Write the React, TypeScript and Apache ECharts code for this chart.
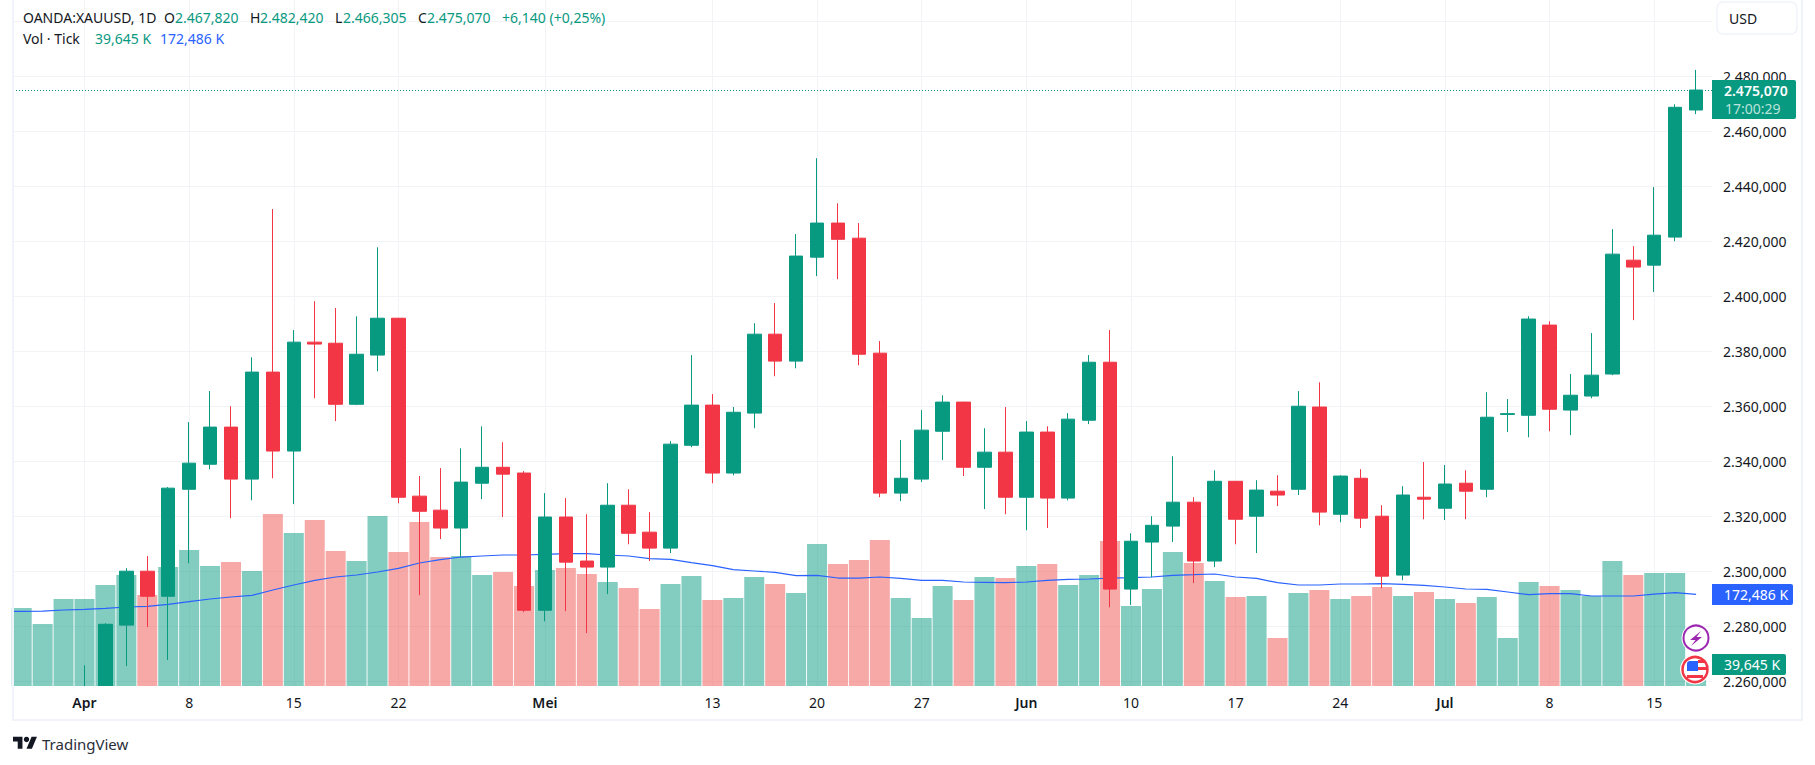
import React, { useEffect, useRef } from "react";
import * as echarts from "echarts";

const FONT = "'Noto Sans', sans-serif";
const UP = "#089981";
const DOWN = "#F23645";
const TEXT = "#131722";
const GRID = "#F2F3F6";

// Index 0 = 27 Mar; weekdays only. Candles start at index 3 (1 Apr), earlier ones lie below the pane.
const firstCandle = 3;
const opens = [2250, 2250, 2280.5, 2300.1, 2291.0, 2329.9, 2339.0, 2352.5, 2333.6, 2372.5, 2343.8, 2383.4, 2383.0, 2360.8, 2378.7, 2392.1, 2327.4, 2322.3, 2315.8, 2332.1, 2337.9, 2335.8, 2285.9, 2319.8, 2303.8, 2301.6, 2324.1, 2314.3, 2308.5, 2345.9, 2360.5, 2335.8, 2357.6, 2386.3, 2376.5, 2414.3, 2426.7, 2421.2, 2379.4, 2328.5, 2333.6, 2351.0, 2361.6, 2337.9, 2343.4, 2327.0, 2350.7, 2326.7, 2355.0, 2376.1, 2293.6, 2310.7, 2316.5, 2325.2, 2303.8, 2332.8, 2320.1, 2329.2, 2329.9, 2359.8, 2320.8, 2333.9, 2320.1, 2298.7, 2327.0, 2323.0, 2332.1, 2329.9, 2357.1, 2356.8, 2389.6, 2358.7, 2363.8, 2371.8, 2413.2, 2411.4, 2421.6, 2467.82];
const closes = [2255, 2280.8, 2300.1, 2291.0, 2330.3, 2339.4, 2352.5, 2333.6, 2372.5, 2343.8, 2383.4, 2382.7, 2360.8, 2379.0, 2392.1, 2327.0, 2321.9, 2315.8, 2332.5, 2337.9, 2335.4, 2285.9, 2319.8, 2303.4, 2301.6, 2324.1, 2313.9, 2308.5, 2346.3, 2360.5, 2335.8, 2357.9, 2386.3, 2376.5, 2414.7, 2426.7, 2420.8, 2379.0, 2328.5, 2333.9, 2351.4, 2361.6, 2337.9, 2343.4, 2327.0, 2350.7, 2326.7, 2355.4, 2376.1, 2293.6, 2311.0, 2316.8, 2325.2, 2303.8, 2332.8, 2319.0, 2329.6, 2327.8, 2360.1, 2321.6, 2334.7, 2319.4, 2298.3, 2327.8, 2326.3, 2331.8, 2329.2, 2356.1, 2357.4, 2391.8, 2359.0, 2364.1, 2371.4, 2415.4, 2410.7, 2422.3, 2468.8, 2475.07];
const lows = [2245, 2243, 2265.6, 2279.8, 2267.8, 2303.0, 2337.2, 2319.4, 2325.9, 2333.9, 2324.5, 2363.0, 2354.7, 2360.5, 2372.8, 2324.8, 2291.4, 2311.8, 2305.2, 2326.3, 2319.8, 2285.2, 2281.9, 2285.6, 2277.6, 2291.8, 2309.9, 2303.8, 2306.7, 2345.2, 2332.1, 2335.0, 2352.1, 2371.0, 2373.9, 2407.4, 2406.3, 2375.0, 2327.0, 2325.6, 2332.5, 2340.5, 2334.7, 2322.7, 2320.8, 2315.0, 2315.8, 2325.9, 2353.6, 2287.0, 2287.8, 2297.9, 2310.7, 2295.8, 2301.6, 2309.9, 2306.7, 2323.8, 2327.8, 2316.8, 2317.9, 2315.8, 2293.9, 2296.8, 2319.0, 2318.7, 2319.0, 2327.0, 2350.7, 2348.8, 2351.0, 2349.6, 2363.0, 2371.4, 2391.4, 2401.6, 2420.1, 2466.3];
const highs = [2265.9, 2281.2, 2301.2, 2305.6, 2330.7, 2354.3, 2365.6, 2360.1, 2377.9, 2431.8, 2387.8, 2398.3, 2395.8, 2392.8, 2417.9, 2392.2, 2334.7, 2337.6, 2344.8, 2352.8, 2347.0, 2336.5, 2328.5, 2326.7, 2320.8, 2332.1, 2329.9, 2321.6, 2347.4, 2378.7, 2364.5, 2359.8, 2390.3, 2397.6, 2422.7, 2450.3, 2433.9, 2426.7, 2383.8, 2347.8, 2358.7, 2364.1, 2361.7, 2352.1, 2359.8, 2354.7, 2352.8, 2357.6, 2378.7, 2387.8, 2313.9, 2320.1, 2341.9, 2327.0, 2336.8, 2332.9, 2333.2, 2335.0, 2365.6, 2368.8, 2335.0, 2337.2, 2324.1, 2331.0, 2339.8, 2338.7, 2336.8, 2365.2, 2362.7, 2392.8, 2391.0, 2371.8, 2386.7, 2424.5, 2418.3, 2439.8, 2469.9, 2482.42];

// Volume in thousands, from index 0
const volumes = [146.7, 116.6, 163.6, 163.6, 190, 208.8, 171.2, 223.8, 255.8, 225.7, 233.2, 216.3, 323.5, 287.8, 312.2, 253.9, 235.1, 319.8, 252.1, 308.5, 242.6, 244.5, 208.8, 214.4, 188.1, 218.2, 222, 210.7, 195.6, 184.3, 144.8, 191.9, 206.9, 161.8, 165.5, 205, 191.9, 174.9, 267.1, 229.5, 237, 274.6, 165.5, 127.9, 188.1, 161.8, 205, 203.1, 225.7, 229.5, 190, 208.8, 272.7, 150.5, 182.5, 252.1, 231.4, 197.5, 167.4, 169.3, 90.3, 174.9, 180.6, 163.6, 169.3, 186.2, 169.3, 176.8, 163.6, 156.1, 167.4, 90.3, 195.6, 188.1, 180.6, 169.3, 235.1, 208.8, 212.6, 212.6, 39.645];
// Moving average of volume, from index -1 (the first point lies just left of the pane)
const volumeSma = [140, 140.4, 141, 143, 144.2, 146, 148.6, 149.9, 153.6, 158.6, 163.6, 167.4, 170.5, 180.6, 190, 198.8, 205, 208.8, 214.4, 221.3, 231.4, 237.6, 242.6, 244.5, 246.4, 246.4, 247.7, 248.9, 248.9, 246.4, 244.5, 239.5, 238.3, 232, 226.3, 218.8, 216.3, 213.8, 207.5, 208.2, 203.1, 203.1, 205, 202.5, 198.8, 198.8, 195.6, 195, 194.4, 195.6, 198.8, 200.6, 201.3, 203.1, 203.8, 205, 208.2, 209.4, 210.7, 205, 202.5, 194.4, 190, 190, 191.9, 191.9, 192.5, 191.2, 189.4, 186.2, 182.5, 181.8, 176.8, 171.8, 173.7, 173.7, 169.3, 169.3, 169.3, 173, 175.6, 172.486];

const timeTickIndex = [3, 8, 13, 18, 25, 33, 38, 43, 48, 53, 58, 63, 68, 73, 78];
const timeTickLabels = ["Apr", "8", "15", "22", "Mei", "13", "20", "27", "Jun", "10", "17", "24", "Jul", "8", "15"];
const monthLabels = ["Apr", "Mei", "Jun", "Jul"];
const priceGridLines = [2260, 2280, 2300, 2320, 2340, 2360, 2380, 2400, 2420, 2440, 2460, 2480, 2500];
const priceLabels = [2260, 2280, 2300, 2320, 2340, 2360, 2380, 2400, 2420, 2440, 2460, 2480];
const lastPrice = 2475.07;

const headerSegments: [string, number, string][] = [
  ["OANDA:XAUUSD, 1D", 23, TEXT],
  ["O", 164, TEXT],
  ["2.467,820", 175, UP],
  ["H", 250, TEXT],
  ["2.482,420", 260, UP],
  ["L", 335, TEXT],
  ["2.466,305", 343, UP],
  ["C", 418, TEXT],
  ["2.475,070", 427, UP],
  ["+6,140 (+0,25%)", 502, UP],
];
const volSegments: [string, number, string][] = [
  ["Vol · Tick", 23, TEXT],
  ["39,645 K", 95, UP],
  ["172,486 K", 160, "#2962FF"],
];

const fmtPrice = (v: number) => `${Math.floor(v / 1000)}.${String(v % 1000).padStart(3, "0")},000`;

const txt = (text: string, x: number, y: number, fill: string, fontSize = 14, fontWeight: any = "normal", z = 120) => ({
  type: "text" as const,
  x,
  y,
  z,
  silent: true,
  style: { text, fill, fontSize, fontWeight, fontFamily: FONT, align: "left", verticalAlign: "middle" },
});
const box = (x: number, y: number, width: number, height: number, fill: string, r: any = 0, z = 110, stroke?: string, lineWidth = 0) => ({
  type: "rect" as const,
  z,
  silent: true,
  shape: { x, y, width, height, r },
  style: { fill, stroke, lineWidth },
});

export default function App() {
  const ref = useRef<HTMLDivElement>(null);
  useEffect(() => {
    if (!ref.current) return;
    echarts.graphic.registerShape("tvlogo", echarts.graphic.extendPath("M14 22H7V11H0V4h14v18zM28 22h-8l7.5-18h8L28 22z", {}) as any);
    const chart = echarts.init(ref.current, undefined, { renderer: "svg" });
    const candleData = opens.map((o, k) => [k + firstCandle, o, closes[k], lows[k], highs[k]]);
    const volumeData = volumes.map((v, i) => {
      const k = i - firstCandle;
      const down = k >= 0 && closes[k] < opens[k];
      return { value: [i, v], itemStyle: { color: down ? "rgba(239,83,80,0.5)" : "rgba(8,153,129,0.5)" } };
    });
    chart.setOption({
      animation: false,
      backgroundColor: "#ffffff",
      textStyle: { fontFamily: FONT },
      grid: { left: 13, right: 103, top: 0, bottom: 79, containLabel: false },
      xAxis: [
        {
          // labels sit above the white strip that hides what candles reach below the pane
          type: "value",
          position: "bottom",
          min: -0.416,
          max: 80.76,
          z: 10,
          axisLine: { show: false },
          axisTick: { show: false },
          splitLine: { show: false },
          axisLabel: {
            customValues: timeTickIndex,
            margin: 9,
            fontFamily: FONT,
            fontSize: 14,
            color: TEXT,
            formatter: (v: number) => {
              const l = timeTickLabels[timeTickIndex.indexOf(v)] ?? "";
              return monthLabels.includes(l) ? `{b|${l}}` : l;
            },
            rich: { b: { fontWeight: 600, fontSize: 14, fontFamily: FONT, color: TEXT } },
          },
        },
        {
          type: "value",
          position: "top",
          min: -0.416,
          max: 80.76,
          z: 0,
          axisLine: { show: false },
          axisTick: { show: false, customValues: timeTickIndex },
          axisLabel: { show: false, customValues: timeTickIndex },
          splitLine: { show: true, lineStyle: { color: GRID, width: 1 } },
        },
      ],
      yAxis: [
        {
          type: "value",
          position: "right",
          min: 2258.36,
          max: 2507.82,
          scale: true,
          axisLine: { show: false },
          axisTick: { show: false, customValues: priceGridLines },
          splitLine: { show: true, lineStyle: { color: GRID, width: 1 } },
          axisLabel: { customValues: priceLabels, margin: 11, fontFamily: FONT, fontSize: 14, color: TEXT, formatter: fmtPrice },
        },
        { type: "value", show: false, min: 0, max: 1290.4, splitLine: { show: false } },
      ],
      series: [
        {
          type: "bar",
          name: "Vol",
          yAxisIndex: 1,
          barWidth: 20,
          z: 1,
          data: volumeData,
        },
        {
          type: "line",
          name: "Volume MA",
          yAxisIndex: 1,
          symbol: "none",
          z: 2,
          clip: true,
          lineStyle: { color: "#2962FF", width: 1.2 },
          data: volumeSma.map((v, i) => [i - 1, v]),
        },
        {
          type: "candlestick",
          name: "OANDA:XAUUSD",
          yAxisIndex: 0,
          barWidth: 14,
          z: 3,
          itemStyle: { color: UP, color0: DOWN, borderColor: UP, borderColor0: DOWN, borderWidth: 1 },
          data: candleData,
          markLine: {
            silent: true,
            symbol: "none",
            label: { show: false },
            lineStyle: { color: UP, type: [1, 2], width: 1 },
            data: [{ yAxis: lastPrice }],
          },
        },
      ],
      graphic: [
        // strip below the pane
        box(14, 686, 1698, 48, "#ffffff", 0, 5),
        // frame
        box(12, 0, 2, 721, "#F0F3FA", 0, 90),
        box(1801, 0, 2, 721, "#F0F3FA", 0, 90),
        box(12, 719, 1791, 2, "#F0F3FA", 0, 90),
        // legend
        ...headerSegments.map(([t, x, c]) => txt(t, x, 17, c)),
        ...volSegments.map(([t, x, c]) => txt(t, x, 38, c)),
        // currency button
        box(1717, 2, 80, 32, "#ffffff", 6, 110, "#F0F3FA", 1.5),
        txt("USD", 1729, 18, TEXT),
        // last price tag
        box(1712, 80, 84, 39, UP, [0, 2, 2, 0]),
        txt("2.475,070", 1724, 90, "#ffffff", 14, 600),
        txt("17:00:29", 1725, 108, "#BBE3DB"),
        // volume MA tag
        box(1712, 584, 81, 21, "#2962FF", [0, 2, 2, 0]),
        txt("172,486 K", 1724, 594, "#ffffff"),
        // volume tag
        box(1712, 654, 74, 21, UP, [0, 2, 2, 0]),
        txt("39,645 K", 1724, 664, "#ffffff"),
        // event icons
        { type: "circle", z: 110, silent: true, shape: { cx: 1696, cy: 638, r: 14.5 }, style: { fill: "#ffffff" } },
        { type: "circle", z: 111, silent: true, shape: { cx: 1696, cy: 638, r: 12.5 }, style: { fill: "#ffffff", stroke: "#9C27B0", lineWidth: 2 } },
        { type: "polygon", z: 112, silent: true, shape: { points: [[1701, 631], [1690, 640], [1695.5, 640], [1691, 646], [1702, 637], [1696.5, 637]] }, style: { fill: "#9C27B0" } },
        { type: "circle", z: 110, silent: true, shape: { cx: 1695, cy: 669.5, r: 15 }, style: { fill: "#ffffff" } },
        { type: "circle", z: 111, silent: true, shape: { cx: 1695, cy: 669.5, r: 12.5 }, style: { fill: "#ffffff", stroke: DOWN, lineWidth: 2.5 } },
        box(1687, 661, 11, 10, "#2962FF", [3, 0, 0, 0], 112),
        box(1698, 660, 7, 3, DOWN, 0, 112),
        box(1698, 667, 9, 3, DOWN, 0, 112),
        box(1687, 675, 16, 3, DOWN, 0, 112),
        // brand
        { type: "group", x: 13, y: 734, scaleX: 0.675, scaleY: 0.675, children: [
          { type: "tvlogo", style: { fill: TEXT }, silent: true },
          { type: "circle", shape: { cx: 20, cy: 8, r: 4 }, style: { fill: TEXT }, silent: true },
        ] },
        txt("TradingView", 42, 744, "#2A2E39", 15),
      ],
    });
    return () => chart.dispose();
  }, []);
  return <div ref={ref} style={{ position: "fixed", left: 0, top: 0, width: 1815, height: 765, background: "#fff" }} />;
}
